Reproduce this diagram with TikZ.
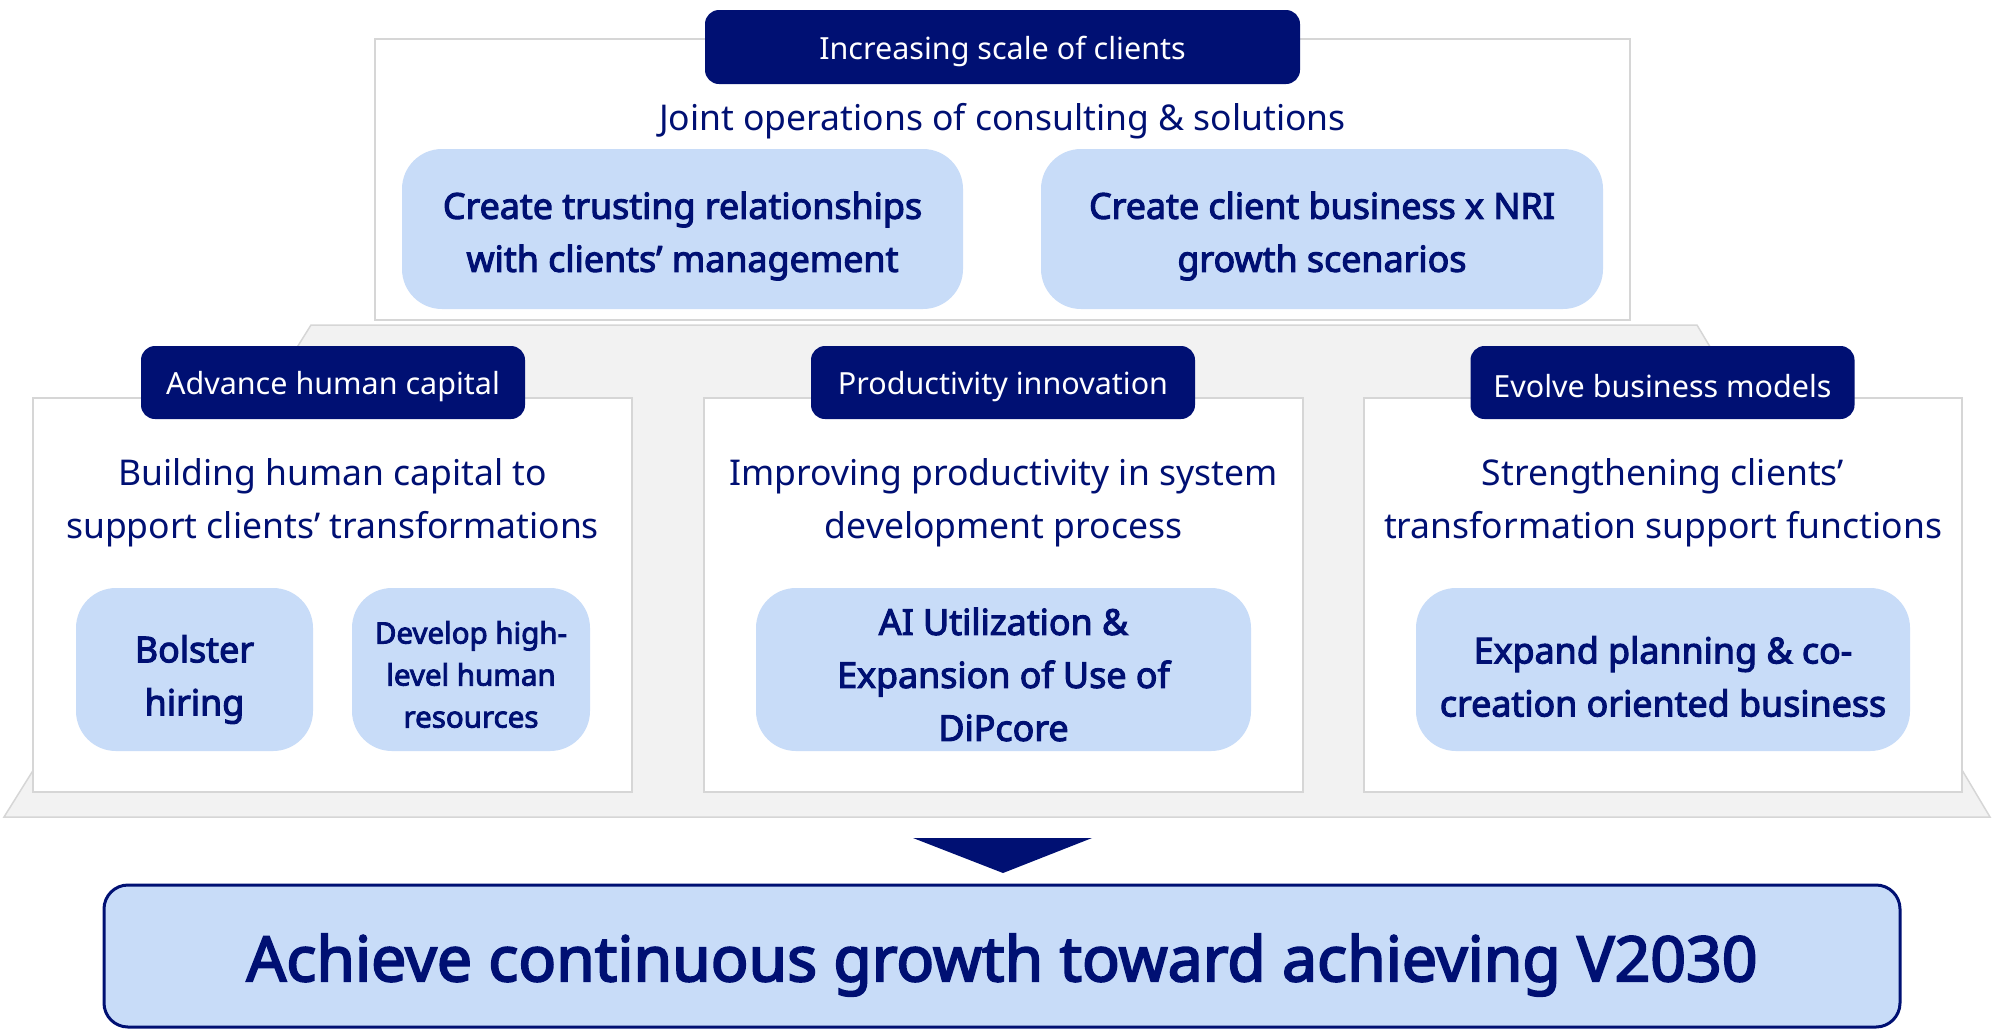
\documentclass[tikz,border=0pt]{standalone}
\usepackage{fontspec}
\setmainfont{Noto Sans}[BoldFont={Noto Sans}, BoldFeatures={FakeBold=3}]
\usetikzlibrary{positioning, calc}

\definecolor{nriNavy}{RGB}{0,16,115}
\definecolor{nriSky}{RGB}{200,220,248}
\definecolor{panelLine}{RGB}{214,214,214}
\definecolor{baseGrey}{RGB}{242,242,242}

\begin{document}
\begin{tikzpicture}[x=1pt, y=-1pt,
        % Styles
        frame/.style={
            rectangle, draw=panelLine, line width=1.5pt,
            fill=white, inner sep=0pt
        },
        header/.style={
            rectangle, rounded corners=14pt,
            fill=nriNavy, inner sep=0pt,
            minimum width=384pt, minimum height=73pt,
            label={[headtext]center:#1}
        },
        headtext/.style={
            text=white, yshift=-4pt, inner sep=0pt,
            font=\fontsize{30.5}{36}\selectfont
        },
        caption/.style={
            text=nriNavy, align=center, inner sep=0pt,
            font=\fontsize{35.5}{53}\selectfont
        },
        pill/.style={
            rectangle, rounded corners=40pt,
            fill=nriSky, inner sep=0pt,
            minimum height=160pt
        },
        pilltext/.style={
            text=nriNavy, align=center, inner sep=0pt, yshift=-7pt,
            font=\bfseries\fontsize{35.8}{53}\selectfont
        },
        goalbox/.style={
            rectangle, rounded corners=24pt,
            draw=nriNavy, line width=3pt, fill=nriSky,
            minimum width=1796pt, minimum height=142pt
        }
    ]
        \useasboundingbox (0,0) rectangle (1993,1029);

        % Base platform
        \draw[draw=panelLine, line width=1.5pt, fill=baseGrey]
            (311,325) -- (1697,325) -- (1990,817) -- (4,817) -- cycle;

        % Top tier
        \node[frame, minimum width=1255pt, minimum height=281pt] (scale_frame) at (1002.5,179.5) {};
        \node[header={Increasing scale of clients}, minimum width=595pt, minimum height=74pt] (scale_head) at (1002.5,47) {};
        \node[caption] (scale_sub) at (1002.5,121) {Joint operations of consulting \& solutions};
        \node[pill, minimum width=561pt,
            label={[pilltext]center:{Create trusting relationships\\with clients’ management}}] (trust) at (682.5,229) {};
        \node[pill, minimum width=562pt,
            label={[pilltext]center:{Create client business x NRI\\growth scenarios}}] (scenario) at (1322,229) {};

        % Middle tier panels
        \node[frame, minimum width=599pt, minimum height=394pt] (hc_frame) at (332.5,595) {};
        \node[frame, minimum width=599pt, minimum height=394pt] (pi_frame) at (1003.5,595) {};
        \node[frame, minimum width=598pt, minimum height=394pt] (bm_frame) at (1663,595) {};

        \node[header={Advance human capital}] (hc_head) at (333,382.5) {};
        \node[header={Productivity innovation}] (pi_head) at (1003,382.5) {};
        \node[header={Evolve business models}] (bm_head) at (1662.5,382.5) {};

        \node[caption] (hc_sub) at (332.5,502.5) {Building human capital to\\support clients’ transformations};
        \node[caption] (pi_sub) at (1003.5,502.5) {Improving productivity in system\\development process};
        \node[caption] (bm_sub) at (1663,502.5) {Strengthening clients’\\transformation support functions};

        % Initiatives
        \node[pill, minimum width=237pt, minimum height=163pt,
            label={[pilltext, yshift=-3pt]center:{Bolster\\hiring}}] (hiring) at (194.5,669.5) {};
        \node[pill, minimum width=238pt, minimum height=163pt,
            label={[pilltext, yshift=2pt, font=\bfseries\fontsize{29.5}{42}\selectfont]center:{Develop high-\\level human\\resources}}] (develop) at (471,669.5) {};
        \node[pill, minimum width=495pt, minimum height=163pt,
            label={[pilltext, yshift=2pt]center:{AI Utilization \&\\Expansion of Use of\\DiPcore}}] (dipcore) at (1003.5,669.5) {};
        \node[pill, minimum width=494pt, minimum height=163pt,
            label={[pilltext]center:{Expand planning \& co-\\creation oriented business}}] (cocreate) at (1663,669.5) {};

        % Outcome
        \node[goalbox,
            label={[pilltext, yshift=-2pt, font=\bfseries\fontsize{62.5}{70}\selectfont]center:{Achieve continuous growth toward achieving V2030}}] (goal) at (1002,956) {};
        \fill[nriNavy] (913,838) -- (1092,838) -- (1003,873) -- cycle;

    \end{tikzpicture}
\end{document}
